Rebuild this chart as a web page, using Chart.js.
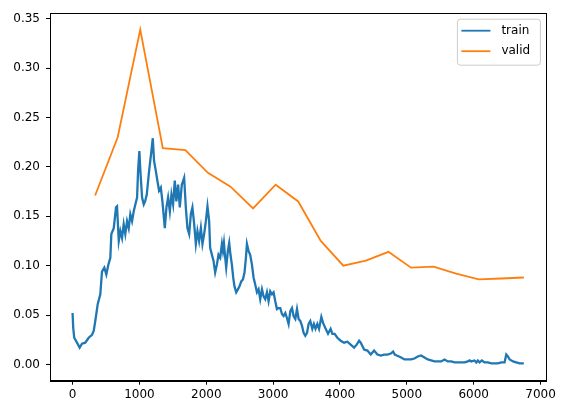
<!DOCTYPE html>
<html lang="en">
<head>
    <meta charset="UTF-8">
    <script src="https://cdn.jsdelivr.net/npm/chart.js@4.4.0/dist/chart.umd.min.js"></script>
    <title>Loss</title>
    <style>
        body { margin: 0; background: #fff; }
        #wrap { width: 568px; height: 413px; }
    </style>
</head>
<body>
<div id="wrap"><canvas id="lossChart"></canvas></div>
<script>
// train loss (step, loss)
const trainSteps = [0,10,25,66,106,141,190,241,291,316,340,376,415,440,475,505,535,565,580,616,650,665,691,715,740,765,789,815,840,864,890,915,939,965,980,999,1014,1040,1065,1085,1110,1145,1179,1200,1219,1245,1269,1294,1320,1344,1380,1404,1429,1455,1479,1504,1529,1553,1579,1604,1634,1669,1694,1718,1744,1769,1793,1819,1844,1868,1893,1919,1943,1968,1994,2018,2043,2058,2084,2108,2133,2159,2183,2208,2234,2249,2264,2283,2298,2323,2343,2362,2383,2403,2422,2448,2473,2497,2523,2548,2572,2593,2608,2632,2657,2683,2707,2732,2758,2782,2807,2833,2857,2882,2908,2932,2957,2983,3007,3032,3057,3081,3107,3132,3156,3182,3207,3231,3257,3282,3306,3332,3357,3381,3406,3432,3456,3481,3507,3531,3556,3586,3610,3634,3661,3687,3721,3747,3786,3821,3860,3886,3920,3961,4010,4061,4110,4160,4211,4250,4286,4310,4361,4410,4460,4510,4560,4610,4660,4710,4760,4795,4819,4849,4915,4964,5014,5064,5113,5163,5213,5263,5313,5363,5413,5463,5514,5563,5613,5664,5713,5763,5813,5863,5912,5938,5963,6013,6039,6062,6088,6122,6163,6212,6263,6313,6362,6413,6462,6487,6512,6538,6588,6637,6687,6750];
const trainLoss = [0.052,0.037,0.027,0.022,0.017,0.021,0.022,0.027,0.030,0.034,0.044,0.061,0.071,0.094,0.098,0.091,0.101,0.108,0.132,0.138,0.159,0.160,0.125,0.135,0.128,0.142,0.132,0.145,0.138,0.152,0.145,0.155,0.162,0.169,0.196,0.216,0.196,0.169,0.162,0.165,0.172,0.196,0.216,0.229,0.206,0.196,0.186,0.176,0.179,0.165,0.138,0.159,0.169,0.155,0.172,0.162,0.186,0.165,0.182,0.159,0.182,0.189,0.159,0.138,0.132,0.152,0.159,0.142,0.122,0.135,0.125,0.138,0.122,0.132,0.145,0.160,0.145,0.118,0.111,0.105,0.093,0.101,0.111,0.108,0.122,0.115,0.123,0.108,0.098,0.115,0.123,0.111,0.101,0.088,0.079,0.073,0.076,0.079,0.084,0.086,0.093,0.108,0.122,0.115,0.111,0.101,0.088,0.081,0.073,0.076,0.066,0.076,0.069,0.066,0.073,0.064,0.074,0.071,0.073,0.064,0.056,0.057,0.057,0.051,0.049,0.052,0.047,0.041,0.054,0.057,0.049,0.046,0.056,0.046,0.044,0.039,0.032,0.029,0.032,0.041,0.044,0.036,0.041,0.036,0.041,0.036,0.048,0.042,0.036,0.031,0.036,0.031,0.031,0.027,0.024,0.022,0.023,0.020,0.017,0.020,0.024,0.022,0.015,0.014,0.010,0.014,0.010,0.009,0.010,0.010,0.011,0.013,0.010,0.009,0.007,0.005,0.005,0.005,0.006,0.008,0.009,0.007,0.005,0.004,0.003,0.003,0.003,0.005,0.003,0.003,0.002,0.002,0.002,0.002,0.003,0.004,0.003,0.004,0.002,0.004,0.002,0.004,0.002,0.002,0.001,0.001,0.001,0.002,0.002,0.010,0.008,0.005,0.003,0.002,0.001,0.001];

// valid loss, once per epoch
const validSteps = [337.5,675,1012.5,1350,1687.5,2025,2362.5,2700,3037.5,3375,3712.5,4050,4387.5,4725,5062.5,5400,5737.5,6075,6412.5,6750];
const validLoss = [0.171,0.230,0.339,0.219,0.217,0.194,0.180,0.158,0.182,0.165,0.125,0.100,0.105,0.114,0.098,0.099,0.092,0.086,0.087,0.088];

const xTicks = [0,1000,2000,3000,4000,5000,6000,7000];
const yTicks = [0,0.05,0.10,0.15,0.20,0.25,0.30,0.35];

const FONT = 'DejaVu Sans';

function toPoints(xs, ys) {
    return xs.map(function (x, i) { return { x: x, y: ys[i] }; });
}

// matplotlib style closed frame
const framePlugin = {
    id: 'frame',
    afterDraw(chart) {
        const a = chart.chartArea, ctx = chart.ctx;
        ctx.save();
        ctx.strokeStyle = '#000';
        ctx.lineWidth = 1;
        ctx.strokeRect(Math.round(a.left) + 0.5, Math.round(a.top) + 0.5,
            Math.round(a.right - a.left), Math.round(a.bottom - a.top));
        ctx.restore();
    }
};

// legend box in the upper right corner of the axes
const legendPlugin = {
    id: 'boxLegend',
    afterDraw(chart) {
        const a = chart.chartArea, ctx = chart.ctx;
        const w = 83, h = 46;
        const x0 = a.right - 6.5 - w, y0 = a.top + 5.5;
        ctx.save();
        ctx.beginPath();
        ctx.roundRect(x0 + 0.5, y0 + 0.5, w, h, 3);
        ctx.fillStyle = 'rgba(255,255,255,0.8)';
        ctx.fill();
        ctx.strokeStyle = '#cccccc';
        ctx.lineWidth = 1;
        ctx.stroke();
        ctx.font = '12px "' + FONT + '"';
        ctx.textBaseline = 'middle';
        chart.data.datasets.forEach(function (ds, i) {
            const yy = y0 + 12 + i * 20.5;
            ctx.beginPath();
            ctx.moveTo(x0 + 4.5, yy);
            ctx.lineTo(x0 + 33.5, yy);
            ctx.strokeStyle = ds.borderColor;
            ctx.lineWidth = 1.8;
            ctx.stroke();
            ctx.fillStyle = '#000';
            ctx.fillText(ds.label, x0 + 44.5, yy);
        });
        ctx.restore();
    }
};

const ctx = document.getElementById('lossChart').getContext('2d');
new Chart(ctx, {
    type: 'line',
    data: {
        datasets: [{
            label: 'train',
            data: toPoints(trainSteps, trainLoss),
            borderColor: '#1f77b4',
            borderWidth: 2.3,
            pointRadius: 0,
            tension: 0,
            fill: false
        }, {
            label: 'valid',
            data: toPoints(validSteps, validLoss),
            borderColor: '#ff7f0e',
            borderWidth: 1.8,
            pointRadius: 0,
            tension: 0,
            fill: false
        }]
    },
    options: {
        responsive: true,
        maintainAspectRatio: false,
        animation: false,
        layout: { padding: { top: 11.6, right: 21.6, left: 0, bottom: 0 } },
        plugins: {
            legend: { display: false },
            tooltip: { enabled: false }
        },
        scales: {
            x: {
                type: 'linear',
                min: -337.5,
                max: 7087.5,
                afterBuildTicks: function (s) { s.ticks = xTicks.map(function (v) { return { value: v }; }); },
                afterFit: function (s) { s.height = 32.3; },
                border: { display: true, color: '#000', width: 1 },
                grid: { display: true, drawOnChartArea: false, drawTicks: true, tickLength: 4, tickColor: '#000' },
                ticks: {
                    color: '#000',
                    padding: 3,
                    maxRotation: 0,
                    font: { family: FONT, size: 12 },
                    callback: function (v) { return String(v); }
                }
            },
            y: {
                min: -0.0165,
                max: 0.3556,
                afterBuildTicks: function (s) { s.ticks = yTicks.map(function (v) { return { value: v }; }); },
                afterFit: function (s) { s.width = 50; },
                border: { display: true, color: '#000', width: 1 },
                grid: { display: true, drawOnChartArea: false, drawTicks: true, tickLength: 4, tickColor: '#000' },
                ticks: {
                    color: '#000',
                    padding: 6,
                    font: { family: FONT, size: 12 },
                    callback: function (v) { return v.toFixed(2); }
                }
            }
        }
    },
    plugins: [framePlugin, legendPlugin]
});
</script>
</body>
</html>
